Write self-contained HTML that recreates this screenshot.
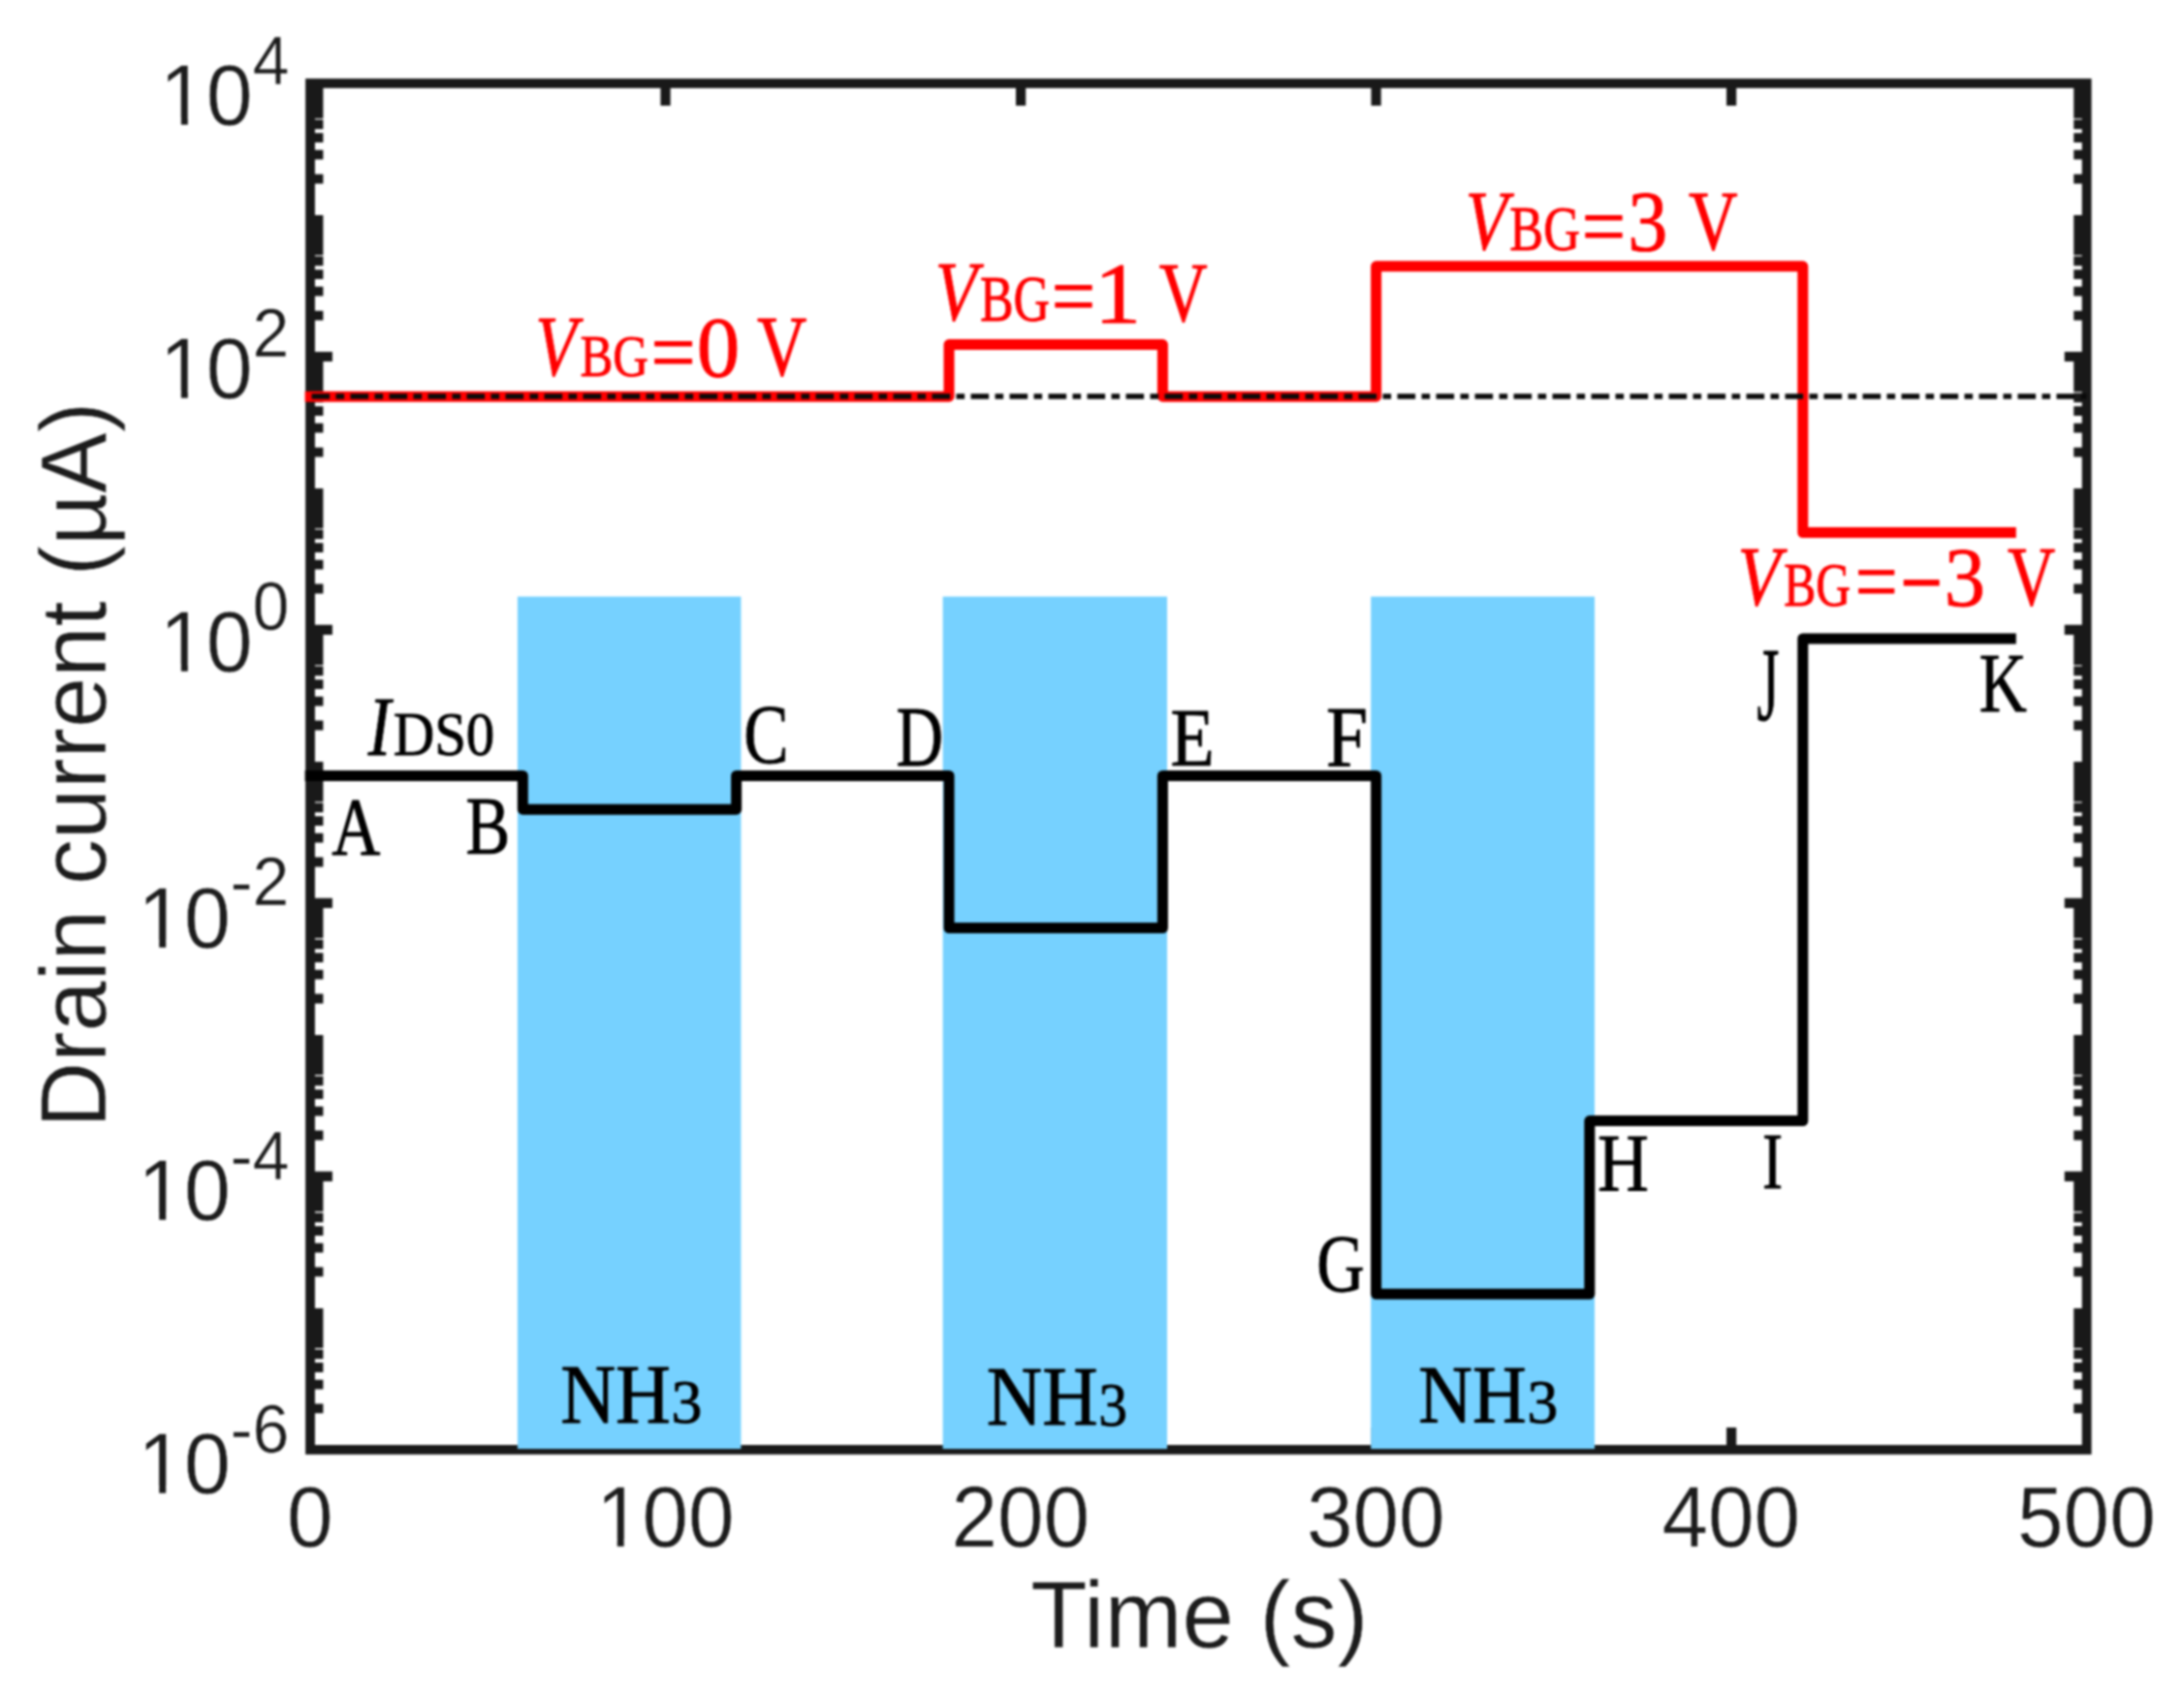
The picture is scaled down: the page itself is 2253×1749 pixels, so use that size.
<!DOCTYPE html>
<html lang="en"><head><meta charset="utf-8"><title>Drain current vs time</title>
<style>html,body{margin:0;padding:0;background:#fff}svg{display:block}</style></head>
<body>
<svg width="2253" height="1749" viewBox="0 0 2253 1749">
<defs><filter id="soft" x="0" y="0" width="100%" height="100%" filterUnits="userSpaceOnUse" color-interpolation-filters="sRGB"><feGaussianBlur stdDeviation="0.8"/></filter></defs>
<g filter="url(#soft)">
<rect x="0" y="0" width="2253" height="1749" fill="#ffffff"/>
<g stroke="#191919" fill="none" stroke-linecap="butt">
<rect x="320.00" y="86.00" width="1832.65" height="1409.90" stroke-width="9.8" stroke-linejoin="miter"/>
<path d="M686.53 1495.90V1473.00M686.53 86.00V108.90M1053.06 1495.90V1473.00M1053.06 86.00V108.90M1419.59 1495.90V1473.00M1419.59 86.00V108.90M1786.12 1495.90V1473.00M1786.12 86.00V108.90M320.00 367.98H342.90M2152.65 367.98H2129.75M320.00 649.96H342.90M2152.65 649.96H2129.75M320.00 931.94H342.90M2152.65 931.94H2129.75M320.00 1213.92H342.90M2152.65 1213.92H2129.75" stroke-width="10.2"/>
<path d="M320.00 1453.46H333.40M2152.65 1453.46H2139.25M320.00 1428.63H333.40M2152.65 1428.63H2139.25M320.00 1411.02H333.40M2152.65 1411.02H2139.25M320.00 1397.35H333.40M2152.65 1397.35H2139.25M320.00 1386.19H333.40M2152.65 1386.19H2139.25M320.00 1376.75H333.40M2152.65 1376.75H2139.25M320.00 1368.57H333.40M2152.65 1368.57H2139.25M320.00 1361.36H333.40M2152.65 1361.36H2139.25M320.00 1354.91H333.40M2152.65 1354.91H2139.25M320.00 1312.47H333.40M2152.65 1312.47H2139.25M320.00 1287.64H333.40M2152.65 1287.64H2139.25M320.00 1270.03H333.40M2152.65 1270.03H2139.25M320.00 1256.36H333.40M2152.65 1256.36H2139.25M320.00 1245.20H333.40M2152.65 1245.20H2139.25M320.00 1235.76H333.40M2152.65 1235.76H2139.25M320.00 1227.58H333.40M2152.65 1227.58H2139.25M320.00 1220.37H333.40M2152.65 1220.37H2139.25M320.00 1171.48H333.40M2152.65 1171.48H2139.25M320.00 1146.65H333.40M2152.65 1146.65H2139.25M320.00 1129.04H333.40M2152.65 1129.04H2139.25M320.00 1115.37H333.40M2152.65 1115.37H2139.25M320.00 1104.21H333.40M2152.65 1104.21H2139.25M320.00 1094.77H333.40M2152.65 1094.77H2139.25M320.00 1086.59H333.40M2152.65 1086.59H2139.25M320.00 1079.38H333.40M2152.65 1079.38H2139.25M320.00 1072.93H333.40M2152.65 1072.93H2139.25M320.00 1030.49H333.40M2152.65 1030.49H2139.25M320.00 1005.66H333.40M2152.65 1005.66H2139.25M320.00 988.05H333.40M2152.65 988.05H2139.25M320.00 974.38H333.40M2152.65 974.38H2139.25M320.00 963.22H333.40M2152.65 963.22H2139.25M320.00 953.78H333.40M2152.65 953.78H2139.25M320.00 945.60H333.40M2152.65 945.60H2139.25M320.00 938.39H333.40M2152.65 938.39H2139.25M320.00 889.50H333.40M2152.65 889.50H2139.25M320.00 864.67H333.40M2152.65 864.67H2139.25M320.00 847.06H333.40M2152.65 847.06H2139.25M320.00 833.39H333.40M2152.65 833.39H2139.25M320.00 822.23H333.40M2152.65 822.23H2139.25M320.00 812.79H333.40M2152.65 812.79H2139.25M320.00 804.61H333.40M2152.65 804.61H2139.25M320.00 797.40H333.40M2152.65 797.40H2139.25M320.00 790.95H333.40M2152.65 790.95H2139.25M320.00 748.51H333.40M2152.65 748.51H2139.25M320.00 723.68H333.40M2152.65 723.68H2139.25M320.00 706.07H333.40M2152.65 706.07H2139.25M320.00 692.40H333.40M2152.65 692.40H2139.25M320.00 681.24H333.40M2152.65 681.24H2139.25M320.00 671.80H333.40M2152.65 671.80H2139.25M320.00 663.62H333.40M2152.65 663.62H2139.25M320.00 656.41H333.40M2152.65 656.41H2139.25M320.00 607.52H333.40M2152.65 607.52H2139.25M320.00 582.69H333.40M2152.65 582.69H2139.25M320.00 565.08H333.40M2152.65 565.08H2139.25M320.00 551.41H333.40M2152.65 551.41H2139.25M320.00 540.25H333.40M2152.65 540.25H2139.25M320.00 530.81H333.40M2152.65 530.81H2139.25M320.00 522.63H333.40M2152.65 522.63H2139.25M320.00 515.42H333.40M2152.65 515.42H2139.25M320.00 508.97H333.40M2152.65 508.97H2139.25M320.00 466.53H333.40M2152.65 466.53H2139.25M320.00 441.70H333.40M2152.65 441.70H2139.25M320.00 424.09H333.40M2152.65 424.09H2139.25M320.00 410.42H333.40M2152.65 410.42H2139.25M320.00 399.26H333.40M2152.65 399.26H2139.25M320.00 389.82H333.40M2152.65 389.82H2139.25M320.00 381.64H333.40M2152.65 381.64H2139.25M320.00 374.43H333.40M2152.65 374.43H2139.25M320.00 325.54H333.40M2152.65 325.54H2139.25M320.00 300.71H333.40M2152.65 300.71H2139.25M320.00 283.10H333.40M2152.65 283.10H2139.25M320.00 269.43H333.40M2152.65 269.43H2139.25M320.00 258.27H333.40M2152.65 258.27H2139.25M320.00 248.83H333.40M2152.65 248.83H2139.25M320.00 240.65H333.40M2152.65 240.65H2139.25M320.00 233.44H333.40M2152.65 233.44H2139.25M320.00 226.99H333.40M2152.65 226.99H2139.25M320.00 184.55H333.40M2152.65 184.55H2139.25M320.00 159.72H333.40M2152.65 159.72H2139.25M320.00 142.11H333.40M2152.65 142.11H2139.25M320.00 128.44H333.40M2152.65 128.44H2139.25M320.00 117.28H333.40M2152.65 117.28H2139.25M320.00 107.84H333.40M2152.65 107.84H2139.25M320.00 99.66H333.40M2152.65 99.66H2139.25M320.00 92.45H333.40M2152.65 92.45H2139.25" stroke-width="9.8"/>
</g>
<rect x="533.9" y="615.6" width="230.5" height="879.4" fill="#76d1ff"/>
<rect x="972.6" y="615.6" width="231.4" height="879.4" fill="#76d1ff"/>
<rect x="1414.2" y="615.6" width="230.8" height="879.4" fill="#76d1ff"/>
<path d="M314.6 409.2H979.0V355.6H1199.4V409.2H1419.6V274.8H1859.8V549.6H2079.8" fill="none" stroke="#ff0000" stroke-width="11.0" stroke-linejoin="round" stroke-linecap="butt"/>
<path d="M321.5 409.0H2152.6" fill="none" stroke="#0a0a0a" stroke-width="5.5" stroke-dasharray="18.6 6.4 8.6 6.4"/>
<path d="M314.6 800.5H539.3V835.2H759.6V800.5H979.0V957.5H1199.4V800.5H1419.6V1335.3H1639.8V1156.6H1859.8V659.0H2079.8" fill="none" stroke="#000000" stroke-width="11.0" stroke-linejoin="round" stroke-linecap="butt"/>
<g font-family="'Liberation Serif', serif" stroke-width="0.9" stroke-linejoin="round">
<text fill="#ff0000" stroke="#ff0000"><tspan x="552.26" y="387.28" font-size="88.12" font-style="italic" textLength="42.67" lengthAdjust="spacingAndGlyphs">V</tspan><tspan x="598.48" y="387.69" font-size="60.75" textLength="70.51" lengthAdjust="spacingAndGlyphs">BG</tspan><tspan x="671.40" y="392.74" font-size="88.00" textLength="46.21" lengthAdjust="spacingAndGlyphs">=</tspan><tspan x="718.84" y="388.32" font-size="88.30" textLength="44.52" lengthAdjust="spacingAndGlyphs">0</tspan> <tspan x="781.09" y="387.47" font-size="88.42" textLength="51.38" lengthAdjust="spacingAndGlyphs">V</tspan></text>
<text fill="#ff0000" stroke="#ff0000"><tspan x="964.70" y="330.29" font-size="87.07" font-style="italic" textLength="43.32" lengthAdjust="spacingAndGlyphs">V</tspan><tspan x="1010.95" y="330.93" font-size="66.72" textLength="71.97" lengthAdjust="spacingAndGlyphs">BG</tspan><tspan x="1084.68" y="334.94" font-size="88.00" textLength="45.36" lengthAdjust="spacingAndGlyphs">=</tspan><tspan x="1129.13" y="331.60" font-size="89.47" textLength="48.14" lengthAdjust="spacingAndGlyphs">1</tspan> <tspan x="1195.71" y="330.50" font-size="86.92" textLength="49.93" lengthAdjust="spacingAndGlyphs">V</tspan></text>
<text fill="#ff0000" stroke="#ff0000"><tspan x="1511.69" y="257.30" font-size="86.92" font-style="italic" textLength="43.42" lengthAdjust="spacingAndGlyphs">V</tspan><tspan x="1557.33" y="257.94" font-size="65.52" textLength="72.70" lengthAdjust="spacingAndGlyphs">BG</tspan><tspan x="1631.78" y="262.74" font-size="88.00" textLength="45.36" lengthAdjust="spacingAndGlyphs">=</tspan><tspan x="1679.29" y="258.42" font-size="88.21" textLength="41.10" lengthAdjust="spacingAndGlyphs">3</tspan> <tspan x="1742.00" y="257.49" font-size="87.22" textLength="50.66" lengthAdjust="spacingAndGlyphs">V</tspan></text>
<text fill="#ff0000" stroke="#ff0000"><tspan x="1792.52" y="624.01" font-size="86.32" font-style="italic" textLength="44.17" lengthAdjust="spacingAndGlyphs">V</tspan><tspan x="1840.31" y="624.66" font-size="64.03" textLength="68.83" lengthAdjust="spacingAndGlyphs">BG</tspan><tspan x="1913.70" y="630.54" font-size="92.40" textLength="44.03" lengthAdjust="spacingAndGlyphs">=</tspan><tspan x="1959.91" y="636.54" font-size="108.00" textLength="43.91" lengthAdjust="spacingAndGlyphs">−</tspan><tspan x="2005.78" y="624.93" font-size="87.16" textLength="42.20" lengthAdjust="spacingAndGlyphs">3</tspan> <tspan x="2071.12" y="624.20" font-size="86.62" textLength="49.32" lengthAdjust="spacingAndGlyphs">V</tspan></text>
<text fill="#000000" stroke="#000000"><tspan x="379.85" y="779.10" font-size="87.38" font-style="italic" textLength="23.36" lengthAdjust="spacingAndGlyphs">I</tspan><tspan x="405.74" y="778.76" font-size="63.70" textLength="104.52" lengthAdjust="spacingAndGlyphs">DS0</tspan></text>
<text fill="#000000" stroke="#000000"><tspan x="342.21" y="882.10" font-size="84.27" textLength="50.09" lengthAdjust="spacingAndGlyphs">A</tspan></text>
<text fill="#000000" stroke="#000000"><tspan x="480.45" y="880.50" font-size="84.27" textLength="45.67" lengthAdjust="spacingAndGlyphs">B</tspan></text>
<text fill="#000000" stroke="#000000"><tspan x="767.32" y="787.34" font-size="86.12" textLength="46.34" lengthAdjust="spacingAndGlyphs">C</tspan></text>
<text fill="#000000" stroke="#000000"><tspan x="924.38" y="789.80" font-size="88.85" textLength="48.55" lengthAdjust="spacingAndGlyphs">D</tspan></text>
<text fill="#000000" stroke="#000000"><tspan x="1207.38" y="789.80" font-size="85.50" textLength="45.18" lengthAdjust="spacingAndGlyphs">E</tspan></text>
<text fill="#000000" stroke="#000000"><tspan x="1367.98" y="789.80" font-size="88.09" textLength="43.02" lengthAdjust="spacingAndGlyphs">F</tspan></text>
<text fill="#000000" stroke="#000000"><tspan x="1358.26" y="1333.15" font-size="84.93" textLength="49.44" lengthAdjust="spacingAndGlyphs">G</tspan></text>
<text fill="#000000" stroke="#000000"><tspan x="1648.10" y="1228.90" font-size="83.82" textLength="52.89" lengthAdjust="spacingAndGlyphs">H</tspan></text>
<text fill="#000000" stroke="#000000"><tspan x="1817.98" y="1226.40" font-size="82.92" textLength="21.11" lengthAdjust="spacingAndGlyphs">I</tspan></text>
<text fill="#000000" stroke="#000000"><tspan x="1812.62" y="742.61" font-size="108.64" textLength="22.91" lengthAdjust="spacingAndGlyphs">J</tspan></text>
<text fill="#000000" stroke="#000000"><tspan x="2041.66" y="733.80" font-size="86.15" textLength="49.07" lengthAdjust="spacingAndGlyphs">K</tspan></text>
<text fill="#000000" stroke="#000000"><tspan x="578.24" y="1467.60" font-size="86.11" textLength="113.78" lengthAdjust="spacingAndGlyphs">NH</tspan><tspan x="692.62" y="1468.16" font-size="63.88" textLength="31.83" lengthAdjust="spacingAndGlyphs">3</tspan></text>
<text fill="#000000" stroke="#000000"><tspan x="1017.72" y="1470.30" font-size="86.11" textLength="114.82" lengthAdjust="spacingAndGlyphs">NH</tspan><tspan x="1133.32" y="1470.86" font-size="63.88" textLength="29.76" lengthAdjust="spacingAndGlyphs">3</tspan></text>
<text fill="#000000" stroke="#000000"><tspan x="1463.29" y="1467.50" font-size="84.89" textLength="111.38" lengthAdjust="spacingAndGlyphs">NH</tspan><tspan x="1575.43" y="1468.07" font-size="62.69" textLength="31.71" lengthAdjust="spacingAndGlyphs">3</tspan></text>
</g>
<g font-family="'Liberation Sans', sans-serif" fill="#1c1c1c" stroke="#ffffff" stroke-width="0.5">
<g transform="translate(164.86 129.4) scale(1 1.03)"><text font-size="86">10<tspan font-size="68" dy="-41.36">4</tspan></text><path d="M5.16 -7.57H21.97V2H5.16zM28.94 -7.57H44.72V2H28.94z" fill="#ffffff" stroke="none"/></g>
<g transform="translate(164.86 410.8) scale(1 1.03)"><text font-size="86">10<tspan font-size="68" dy="-41.36">2</tspan></text><path d="M5.16 -7.57H21.97V2H5.16zM28.94 -7.57H44.72V2H28.94z" fill="#ffffff" stroke="none"/></g>
<g transform="translate(164.86 693.1) scale(1 1.03)"><text font-size="86">10<tspan font-size="68" dy="-42.33">0</tspan></text><path d="M5.16 -7.57H21.97V2H5.16zM28.94 -7.57H44.72V2H28.94z" fill="#ffffff" stroke="none"/></g>
<g transform="translate(142.22 977.8) scale(1 1.03)"><text font-size="86">10<tspan font-size="68" dy="-42.33">-2</tspan></text><path d="M5.16 -7.57H21.97V2H5.16zM28.94 -7.57H44.72V2H28.94z" fill="#ffffff" stroke="none"/></g>
<g transform="translate(142.22 1259.0) scale(1 1.03)"><text font-size="86">10<tspan font-size="68" dy="-40.97">-4</tspan></text><path d="M5.16 -7.57H21.97V2H5.16zM28.94 -7.57H44.72V2H28.94z" fill="#ffffff" stroke="none"/></g>
<g transform="translate(142.22 1540.8) scale(1 1.03)"><text font-size="86">10<tspan font-size="68" dy="-40.97">-6</tspan></text><path d="M5.16 -7.57H21.97V2H5.16zM28.94 -7.57H44.72V2H28.94z" fill="#ffffff" stroke="none"/></g>
<g transform="translate(319.70 1596.0) scale(1 1.03)"><text font-size="85.5" text-anchor="middle">0</text></g>
<g transform="translate(686.23 1596.0) scale(1 1.03)"><text font-size="85.5" text-anchor="middle">100</text><path d="M-66.20 -7.52H-49.49V2H-66.20zM-42.56 -7.52H-26.87V2H-42.56z" fill="#ffffff" stroke="none"/></g>
<g transform="translate(1052.76 1596.0) scale(1 1.03)"><text font-size="85.5" text-anchor="middle">200</text></g>
<g transform="translate(1419.29 1596.0) scale(1 1.03)"><text font-size="85.5" text-anchor="middle">300</text></g>
<g transform="translate(1785.82 1596.0) scale(1 1.03)"><text font-size="85.5" text-anchor="middle">400</text></g>
<g transform="translate(2152.35 1596.0) scale(1 1.03)"><text font-size="85.5" text-anchor="middle">500</text></g>
<text transform="translate(1237.2 1700.3) scale(1 1.015)" font-size="96" text-anchor="middle">Time (s)</text>
<text transform="translate(108.5 789.3) rotate(-90) scale(1 1.03)" font-size="94" text-anchor="middle">Drain current (µA)</text>
</g>
</g>
</svg>
</body></html>
